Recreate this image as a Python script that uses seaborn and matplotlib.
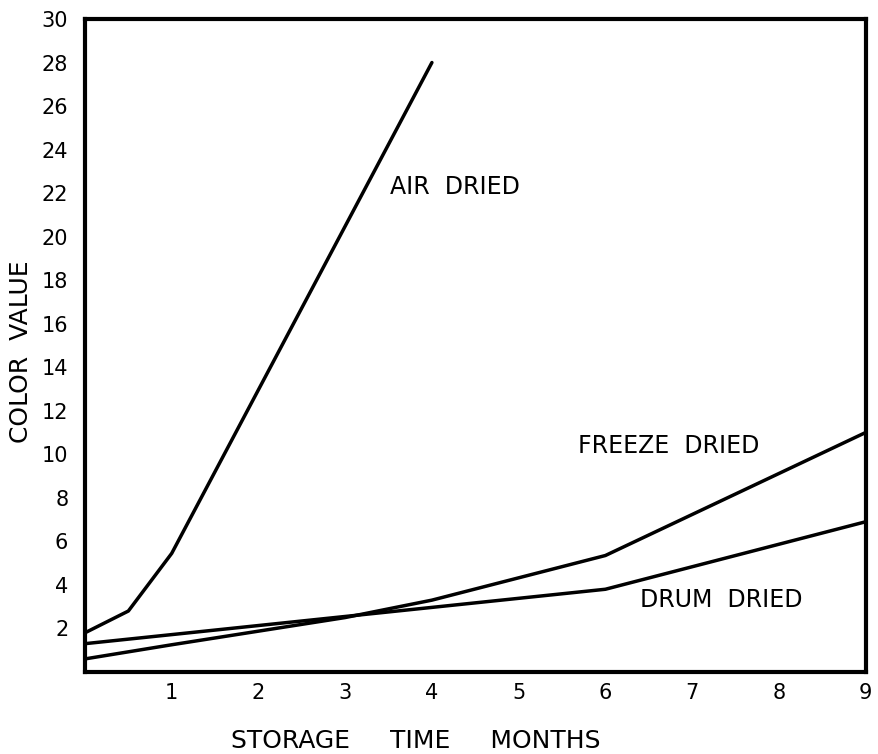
import matplotlib
matplotlib.use("Agg")
import matplotlib.pyplot as plt
import seaborn as sns
import pandas as pd

air_months = [0, 0.5, 1, 4]
air_values = [1.8, 2.8, 5.45, 28.0]
freeze_months = [0, 1, 3, 4, 6, 9]
freeze_values = [0.6, 1.25, 2.5, 3.3, 5.35, 11.0]
drum_months = [0, 3, 6, 9]
drum_values = [1.3, 2.55, 3.8, 6.9]

x_ticks = [1, 2, 3, 4, 5, 6, 7, 8, 9]
y_ticks = [2, 4, 6, 8, 10, 12, 14, 16, 18, 20, 22, 24, 26, 28, 30]

rows = []
for name, xs, ys in [("AIR DRIED", air_months, air_values),
                     ("FREEZE DRIED", freeze_months, freeze_values),
                     ("DRUM DRIED", drum_months, drum_values)]:
    for x, y in zip(xs, ys):
        rows.append({"series": name, "month": x, "value": y})
df = pd.DataFrame(rows)

sns.set_theme(style="white")
plt.rcParams['font.family'] = ['DejaVu Sans']

fig = plt.figure(figsize=(8.79, 7.54), dpi=100)
ax = fig.add_axes([0.0967, 0.1088, 0.888, 0.866])

sns.lineplot(data=df, x="month", y="value", units="series", estimator=None,
             color="black", linewidth=2.5, sort=False, ax=ax, legend=False)

ax.set_xlim(0, 9)
ax.set_ylim(0, 30)
ax.set_xticks(x_ticks)
ax.set_xticklabels([str(t) for t in x_ticks])
ax.set_yticks(y_ticks)
ax.set_yticklabels([str(t) for t in y_ticks])
ax.tick_params(axis="both", length=0, labelsize=15, colors="black")
ax.tick_params(axis="x", pad=8)
ax.tick_params(axis="y", pad=12)

for s in ax.spines.values():
    s.set_visible(True)
    s.set_color("black")
    s.set_linewidth(3.0)

ax.set_xlabel("STORAGE     TIME     MONTHS", fontsize=18, color="black")
ax.set_ylabel("COLOR  VALUE", fontsize=18, color="black")
ax.xaxis.set_label_coords(0.424, -0.087)
ax.yaxis.set_label_coords(-0.066, 0.49)

ax.text(4.27, 22.3, "AIR  DRIED", fontsize=17, ha="center", va="center", color="black")
ax.text(6.73, 10.4, "FREEZE  DRIED", fontsize=17, ha="center", va="center", color="black")
ax.text(7.34, 3.3, "DRUM  DRIED", fontsize=17, ha="center", va="center", color="black")

fig.savefig("out.png", dpi=100)
